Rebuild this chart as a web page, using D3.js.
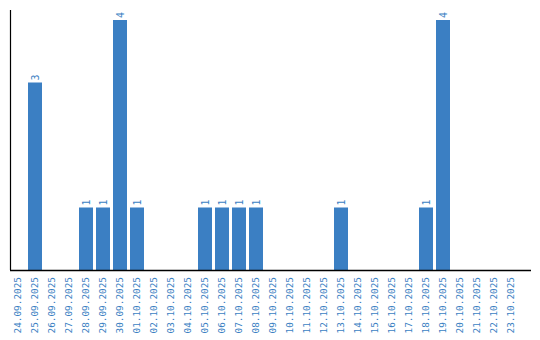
<!DOCTYPE html>
<html><head><meta charset="utf-8">
<script src="https://cdn.jsdelivr.net/npm/d3@7"></script>
<style>body{margin:0;background:#fff}</style>
</head><body>
<svg id="c" width="540" height="340"></svg>
<script>
const categories = ["24.09.2025","25.09.2025","26.09.2025","27.09.2025","28.09.2025","29.09.2025","30.09.2025","01.10.2025","02.10.2025","03.10.2025","04.10.2025","05.10.2025","06.10.2025","07.10.2025","08.10.2025","09.10.2025","10.10.2025","11.10.2025","12.10.2025","13.10.2025","14.10.2025","15.10.2025","16.10.2025","17.10.2025","18.10.2025","19.10.2025","20.10.2025","21.10.2025","22.10.2025","23.10.2025"];
const values = [0,3,0,0,1,1,4,1,0,0,0,1,1,1,1,0,0,0,0,1,0,0,0,0,1,4,0,0,0,0];

const svg = d3.select("#c");
const color = "#3b7fc3";
const font = "'DejaVu Sans Mono', monospace";
const x = d3.scaleBand().domain(categories).range([11, 521]).padding(0);
const y = d3.scaleLinear().domain([0, 4]).range([270, 20]);
const barW = x.bandwidth() - 3;

svg.selectAll("rect.bar").data(categories.map((c,i)=>({c, v: values[i]})).filter(d=>d.v>0))
  .enter().append("rect")
  .attr("x", d => x(d.c))
  .attr("y", d => y(d.v))
  .attr("width", barW)
  .attr("height", d => y(0) - y(d.v))
  .attr("fill", color);

svg.selectAll("text.val").data(categories.map((c,i)=>({c, v: values[i]})).filter(d=>d.v>0))
  .enter().append("text")
  .attr("transform", d => `translate(${x(d.c) + barW/2},${y(d.v) - 2}) rotate(-90)`)
  .attr("dy", "0.35em")
  .attr("text-anchor", "start")
  .attr("fill", color)
  .style("font-family", font)
  .style("font-size", "10px")
  .text(d => d.v);

const xAxis = svg.append("g").attr("transform", "translate(0,270)")
  .call(d3.axisBottom(x).tickSize(0).tickPadding(0));
xAxis.select(".domain").remove();
xAxis.selectAll("text")
  .attr("transform", d => `translate(${barW/2 - x.bandwidth()/2 - 0.5},7) rotate(-90)`)
  .attr("x", 0).attr("y", 0)
  .attr("dy", "0.35em")
  .attr("text-anchor", "end")
  .attr("fill", color)
  .style("font-family", font)
  .style("font-size", "9.4px");

svg.append("line").attr("x1", 10).attr("x2", 531).attr("y1", 270.5).attr("y2", 270.5)
  .attr("stroke", "#000").attr("stroke-width", 1.5);
svg.append("line").attr("x1", 10.5).attr("x2", 10.5).attr("y1", 10).attr("y2", 270)
  .attr("stroke", "#000").attr("stroke-width", 1.2);
</script>
</body></html>
